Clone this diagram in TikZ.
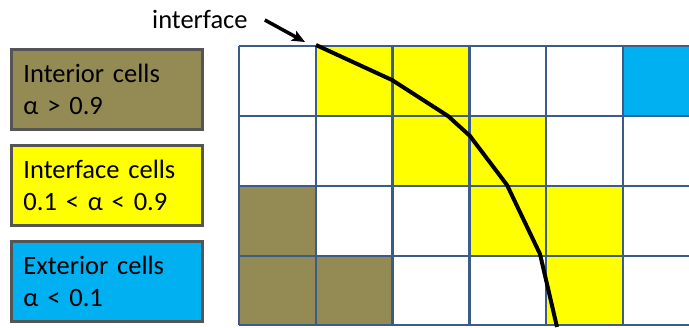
\documentclass[tikz,border=0pt]{standalone}
\usepackage{fontspec}
\setmainfont{Carlito}
\usetikzlibrary{positioning,arrows.meta}
\definecolor{olivecell}{HTML}{948A54}
\definecolor{yellowcell}{HTML}{FFFF00}
\definecolor{bluecell}{HTML}{00B0F0}
\definecolor{gridline}{HTML}{3B5C88}
\definecolor{boxline}{HTML}{555555}
\tikzset{
	legendbox/.style={draw=boxline,line width=2.8bp,minimum width=191bp,minimum height=80bp,text width=167bp,inner xsep=12bp,align=left,font=\fontsize{26.5bp}{32.5bp}\selectfont},
	gridedge/.style={draw=gridline,line width=2.3bp},
}

\begin{document}
\begin{tikzpicture}[x=1bp,y=-1bp]
			\useasboundingbox (0,0) rectangle (689,327);
			\fill [yellowcell] (315.8,46) rectangle (392.6,116);
			\fill [yellowcell] (392.6,46) rectangle (469.4,116);
			\fill [bluecell] (623,46) rectangle (689,116);
			\fill [yellowcell] (392.6,116) rectangle (469.4,186);
			\fill [yellowcell] (469.4,116) rectangle (546.2,186);
			\fill [olivecell] (239,186) rectangle (315.8,256);
			\fill [yellowcell] (469.4,186) rectangle (546.2,256);
			\fill [yellowcell] (546.2,186) rectangle (623,256);
			\fill [olivecell] (239,256) rectangle (315.8,325);
			\fill [olivecell] (315.8,256) rectangle (392.6,325);
			\fill [yellowcell] (546.2,256) rectangle (623,325);
			\draw [gridedge] (239,46) -- (689,46);
			\draw [gridedge] (239,116) -- (689,116);
			\draw [gridedge] (239,186) -- (689,186);
			\draw [gridedge] (239,256) -- (689,256);
			\draw [gridedge] (239,325) -- (689,325);
			\draw [gridedge] (239,46) -- (239,325);
			\draw [gridedge] (315.8,46) -- (315.8,325);
			\draw [gridedge] (392.6,46) -- (392.6,325);
			\draw [gridedge] (469.4,46) -- (469.4,325);
			\draw [gridedge] (546.2,46) -- (546.2,325);
			\draw [gridedge] (623,46) -- (623,325);
			\draw [line width=4bp] (316,45) -- (392,80) -- (448,116) -- (470,136) -- (507,185) -- (540,254) -- (557,327);
			\node [legendbox,fill=olivecell] (interior) at (107,89.5) {Interior cells\\α > 0.9};
			\node [legendbox,fill=yellowcell] (interfacecells) at (107,185.5) {Interface cells\\0.1 < α < 0.9};
			\node [legendbox,fill=bluecell] (exterior) at (107,281.5) {Exterior cells\\α < 0.1};
			\node [anchor=base west,inner sep=0pt,font=\fontsize{26.5bp}{32.5bp}\selectfont] (label) at (152,28) {interface};
			\coordinate (tip) at (305,42);
			\draw [line width=3.5bp,-{Stealth[length=13bp,width=11bp,inset=3bp]}] (label.east) ++(17,1) -- (tip);
		\end{tikzpicture}
\end{document}
